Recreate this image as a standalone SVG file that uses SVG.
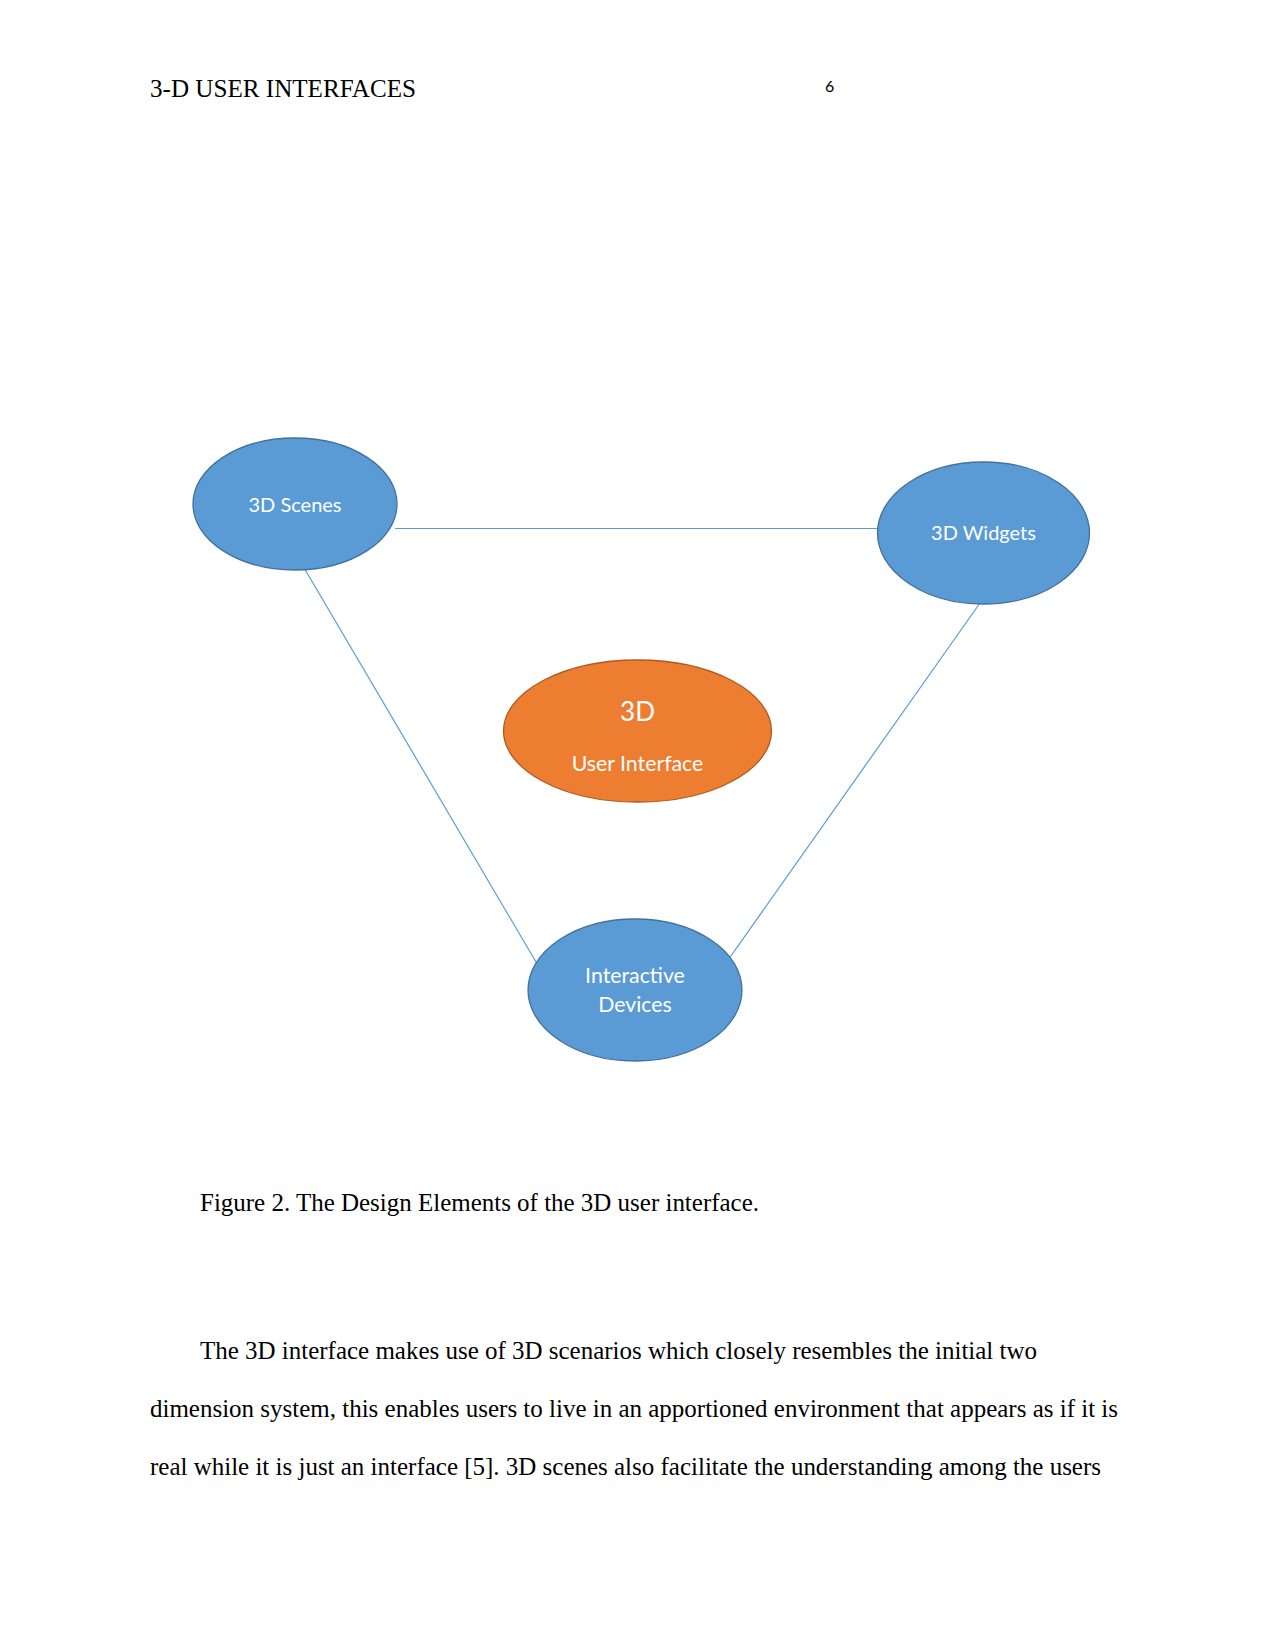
<svg xmlns="http://www.w3.org/2000/svg" width="1275" height="1651" viewBox="0 0 1275 1651">
<style>
.page{font-family:"Liberation Serif","Times New Roman",serif;fill:#000;font-size:25px}
.node{fill:#5B9BD5;stroke:#41719C;stroke-width:1.3}
.core{fill:#ED7D31;stroke:#AE5A21;stroke-width:1.3}
.lbl{font-family:Lato,"Open Sans","Liberation Sans",sans-serif;fill:#fff;font-size:20px;text-anchor:middle}
.lbl2{font-size:21.3px}
.conn line{stroke:#5B9BD5;stroke-width:1.2}
</style>
<rect width="1275" height="1651" fill="#fff"/>
<text class="page" x="150" y="97" textLength="266" lengthAdjust="spacingAndGlyphs">3-D USER INTERFACES</text>
<text x="825" y="92" style="font-family:Lato,'Liberation Sans',sans-serif;font-size:16px;fill:#000">6</text>
<g id="connectors" class="conn">
<line x1="395" y1="528.5" x2="878" y2="528.5"/>
<line x1="305" y1="569.5" x2="536" y2="962"/>
<line x1="980" y1="603" x2="729.5" y2="958"/>
</g>
<g id="node-3d-scenes">
<ellipse class="node" cx="295" cy="504" rx="102" ry="66"/>
<text class="lbl" x="295" y="512">3D Scenes</text>
</g>
<g id="node-3d-widgets">
<ellipse class="node" cx="983.5" cy="533" rx="106" ry="71"/>
<text class="lbl" x="983.5" y="540">3D Widgets</text>
</g>
<g id="node-3d-ui">
<ellipse class="core" cx="637.5" cy="731" rx="134" ry="71"/>
<text class="lbl" x="637.5" y="721" style="font-size:26px">3D</text>
<text class="lbl lbl2" x="637.5" y="770.5">User Interface</text>
</g>
<g id="node-interactive-devices">
<ellipse class="node" cx="635" cy="990" rx="107" ry="71"/>
<text class="lbl lbl2" x="635" y="982.5">Interactive</text>
<text class="lbl lbl2" x="635" y="1011.5">Devices</text>
</g>
<text class="page" x="200" y="1211" textLength="559" lengthAdjust="spacingAndGlyphs">Figure 2. The Design Elements of the 3D user interface.</text>
<text class="page" x="200" y="1359" textLength="837" lengthAdjust="spacingAndGlyphs">The 3D interface makes use of 3D scenarios which closely resembles the initial two</text>
<text class="page" x="150" y="1417" textLength="968" lengthAdjust="spacingAndGlyphs">dimension system, this enables users to live in an apportioned environment that appears as if it is</text>
<text class="page" x="150" y="1475" textLength="951" lengthAdjust="spacingAndGlyphs">real while it is just an interface [5]. 3D scenes also facilitate the understanding among the users</text>
</svg>
